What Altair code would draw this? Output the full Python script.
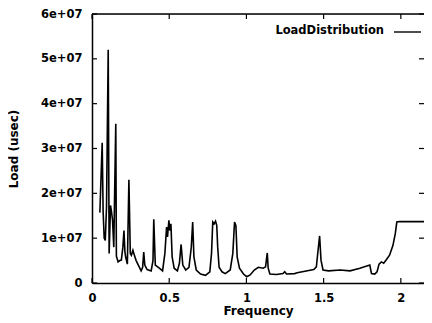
import altair as alt
import pandas as pd

# Frequency values and load (in units of 1e7 usec)
freq = [0.051, 0.066, 0.072, 0.079, 0.086, 0.094, 0.105, 0.111, 0.120, 0.126,
        0.133, 0.141, 0.154, 0.158, 0.169, 0.180, 0.190, 0.200, 0.207, 0.213,
        0.218, 0.229, 0.239, 0.248, 0.255, 0.265, 0.276, 0.286, 0.300, 0.318,
        0.328, 0.335, 0.342, 0.357, 0.383, 0.395, 0.400, 0.410, 0.436, 0.457,
        0.472, 0.483, 0.489, 0.498, 0.504, 0.511, 0.519, 0.532, 0.553, 0.566,
        0.577, 0.588, 0.607, 0.628, 0.643, 0.652, 0.660, 0.675, 0.703, 0.735,
        0.763, 0.774, 0.782, 0.791, 0.800, 0.808, 0.814, 0.823, 0.842, 0.863,
        0.895, 0.912, 0.923, 0.932, 0.940, 0.955, 0.981, 1.002, 1.024, 1.051,
        1.077, 1.109, 1.124, 1.135, 1.141, 1.152, 1.194, 1.237, 1.248, 1.260,
        1.312, 1.329, 1.436, 1.453, 1.464, 1.474, 1.483, 1.496, 1.532, 1.607,
        1.671, 1.735, 1.799, 1.810, 1.831, 1.846, 1.859, 1.874, 1.889, 1.906,
        1.927, 1.949, 1.964, 1.974, 1.991, 2.150]
load_e7 = [1.57, 3.13, 1.60, 1.00, 0.95, 1.69, 5.20, 0.66, 1.73, 1.60,
           1.40, 0.80, 3.55, 0.60, 0.47, 0.50, 0.51, 0.80, 1.17, 0.70,
           0.58, 0.42, 2.30, 0.66, 0.62, 0.73, 0.60, 0.50, 0.40, 0.27,
           0.35, 0.69, 0.40, 0.30, 0.27, 0.50, 1.42, 0.40, 0.33, 0.27,
           0.66, 1.25, 1.03, 1.40, 1.17, 1.32, 0.58, 0.33, 0.27, 0.44,
           0.86, 0.40, 0.29, 0.35, 0.80, 1.36, 0.58, 0.29, 0.20, 0.17,
           0.25, 0.66, 1.36, 1.32, 1.38, 1.28, 0.80, 0.35, 0.25, 0.21,
           0.29, 0.66, 1.36, 1.28, 0.58, 0.33, 0.20, 0.14, 0.18, 0.29,
           0.35, 0.33, 0.36, 0.67, 0.33, 0.20, 0.19, 0.21, 0.25, 0.20,
           0.21, 0.23, 0.30, 0.36, 0.73, 1.05, 0.51, 0.29, 0.27, 0.29,
           0.27, 0.33, 0.40, 0.21, 0.20, 0.25, 0.42, 0.47, 0.44, 0.52,
           0.62, 0.84, 1.10, 1.36, 1.37, 1.37]

x_ticks = [0, 0.5, 1, 1.5, 2]
y_ticks = [0, 1e7, 2e7, 3e7, 4e7, 5e7, 6e7]
legend_label = "LoadDistribution"
x_title = "Frequency"
y_title = "Load (usec)"

W, H = 332, 269
FONT = "DejaVu Sans"

df = pd.DataFrame({"freq": freq, "load": [v * 1e7 for v in load_e7]})
xt = pd.DataFrame({"freq": x_ticks})
yt = pd.DataFrame({"load": y_ticks})
leg = pd.DataFrame({"label": [legend_label]})

xscale = alt.Scale(domain=[0, 2.15], nice=False, zero=False)
yscale = alt.Scale(domain=[0, 6e7], nice=False)

xaxis = alt.Axis(values=x_ticks, format="~g", labelPadding=9, titlePadding=2)
yaxis = alt.Axis(values=y_ticks,
                 labelExpr="datum.value == 0 ? '0' : format(datum.value / 1e7, 'd') + 'e+07'",
                 labelPadding=10, titlePadding=20)

X = alt.X("freq:Q", scale=xscale, title=x_title, axis=xaxis)
Y = alt.Y("load:Q", scale=yscale, title=y_title, axis=yaxis)

line = alt.Chart(df).mark_line(color="black", strokeWidth=1.6, clip=True).encode(x=X, y=Y)

top_border = alt.Chart(leg).mark_rule(color="black", strokeWidth=1.5).encode(
    x=alt.value(0), x2=alt.value(W), y=alt.value(0))

xt_bottom = alt.Chart(xt).mark_rule(color="black", strokeWidth=1.2).encode(
    x=X, y=alt.value(H), y2=alt.value(H - 5))
xt_top = alt.Chart(xt).mark_rule(color="black", strokeWidth=1.2).encode(
    x=X, y=alt.value(0), y2=alt.value(5))
yt_left = alt.Chart(yt).mark_rule(color="black", strokeWidth=1.2).encode(
    y=Y, x=alt.value(0), x2=alt.value(5))
yt_right = alt.Chart(yt).mark_rule(color="black", strokeWidth=1.2).encode(
    y=Y, x=alt.value(W - 5), x2=alt.value(W))

leg_text = alt.Chart(leg).mark_text(align="right", baseline="middle", font=FONT,
                                    fontSize=11.5, fontWeight="bold", color="black").encode(
    text="label:N", x=alt.value(292), y=alt.value(17))
leg_line = alt.Chart(leg).mark_rule(color="black", strokeWidth=1.4).encode(
    x=alt.value(302), x2=alt.value(329), y=alt.value(18))

chart = alt.layer(line, top_border, xt_bottom, xt_top, yt_left, yt_right,
                  leg_text, leg_line).properties(
    width=W, height=H,
    autosize=alt.AutoSizeParams(type="none"),
    padding={"left": 84, "top": 6, "right": 0, "bottom": 38},
).configure_view(stroke=None).configure(background="white").configure_axis(
    tickSize=0, domainColor="black", domainWidth=1.5, grid=False,
    labelFont=FONT, labelFontSize=11.5, labelFontWeight="bold", labelColor="black",
    titleFont=FONT, titleFontSize=12, titleFontWeight="bold", titleColor="black",
    labelFlush=False,
)

chart.save("out.html", embed_options={"renderer": "svg", "actions": False})
